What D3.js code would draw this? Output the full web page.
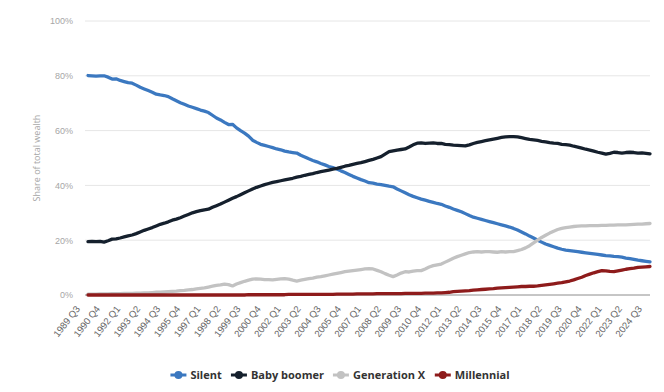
<!DOCTYPE html>
<html>
<head>
<meta charset="utf-8">
<script src="https://cdn.jsdelivr.net/npm/d3@7"></script>
<style>
  body { margin: 0; background: #fff; }
  svg { display: block; font-family: "Open Sans", "Noto Sans", sans-serif; }
</style>
</head>
<body>
<svg id="chart"></svg>
<script>
// quarters 1989 Q3 .. 2024 Q3
const quarters = [];
for (let yr = 1989; yr <= 2024; yr++) {
  for (let q = 1; q <= 4; q++) {
    if (yr === 1989 && q < 3) continue;
    if (yr === 2024 && q > 3) continue;
    quarters.push(`${yr} Q${q}`);
  }
}

const tickLabels = ['1989 Q3', '1990 Q4', '1992 Q1', '1993 Q2', '1994 Q3', '1995 Q4', '1997 Q1',
  '1998 Q2', '1999 Q3', '2000 Q4', '2002 Q1', '2003 Q2', '2004 Q3', '2005 Q4', '2007 Q1',
  '2008 Q2', '2009 Q3', '2010 Q4', '2012 Q1', '2013 Q2', '2014 Q3', '2015 Q4', '2017 Q1',
  '2018 Q2', '2019 Q3', '2020 Q4', '2022 Q1', '2023 Q2', '2024 Q3'];

const yTicks = [0, 20, 40, 60, 80, 100];

const silent = [
  80.1, 80.0, 79.9, 80.0, 80.0, 79.5, 78.8, 78.9, 78.3, 77.9,
  77.5, 77.3, 76.6, 75.8, 75.2, 74.6, 74.0, 73.3, 73.0, 72.8,
  72.4, 71.6, 70.9, 70.2, 69.6, 69.0, 68.5, 68.0, 67.5, 67.1,
  66.6, 65.6, 64.6, 63.9, 63.0, 62.2, 62.3, 61.0, 60.0, 59.1,
  58.0, 56.5, 55.7, 55.0, 54.6, 54.2, 53.8, 53.3, 53.0, 52.5,
  52.2, 52.0, 51.8, 51.0, 50.4, 49.7, 49.1, 48.6, 48.0, 47.5,
  46.9, 46.5, 46.0, 45.3, 44.7, 44.0, 43.3, 42.7, 42.1, 41.6,
  41.0, 40.8, 40.5, 40.3, 40.0, 39.7, 39.5, 38.7, 38.0, 37.3,
  36.6, 36.0, 35.5, 35.0, 34.6, 34.2, 33.8, 33.4, 33.1, 32.5,
  32.0, 31.4, 30.9, 30.4, 29.7, 29.0, 28.4, 28.0, 27.6, 27.2,
  26.8, 26.4, 26.0, 25.6, 25.2, 24.8, 24.3, 23.7, 23.0, 22.3,
  21.5, 20.8, 20.0, 19.3, 18.6, 18.1, 17.6, 17.1, 16.7, 16.4,
  16.2, 16.0, 15.8, 15.6, 15.4, 15.2, 15.0, 14.8, 14.6, 14.4,
  14.3, 14.1, 14.0, 13.8, 13.5, 13.3, 13.0, 12.7, 12.5, 12.3,
  12.1
];

const babyBoomer = [
  19.5, 19.6, 19.5, 19.6, 19.3, 19.8, 20.4, 20.5, 20.8, 21.2,
  21.6, 21.9, 22.4, 23.0, 23.6, 24.1, 24.6, 25.2, 25.8, 26.2,
  26.7, 27.3, 27.7, 28.2, 28.8, 29.4, 30.0, 30.4, 30.8, 31.1,
  31.3, 32.0, 32.6, 33.2, 33.9, 34.6, 35.3, 35.9, 36.6, 37.3,
  38.0, 38.7, 39.3, 39.8, 40.3, 40.7, 41.1, 41.4, 41.7, 42.0,
  42.3, 42.6, 43.0, 43.3, 43.7, 44.0, 44.3, 44.7, 45.0, 45.3,
  45.6, 45.9, 46.2, 46.6, 47.0, 47.3, 47.7, 48.0, 48.3, 48.7,
  49.1, 49.5, 50.0, 50.5, 51.4, 52.3, 52.6, 52.9, 53.1, 53.3,
  54.0, 54.8, 55.4, 55.5, 55.3, 55.4, 55.5, 55.3, 55.3, 55.0,
  54.9, 54.7, 54.6, 54.5, 54.4, 54.8, 55.3, 55.7, 56.0, 56.3,
  56.6, 56.9, 57.2, 57.5, 57.7, 57.8, 57.8, 57.7, 57.4, 57.1,
  56.8, 56.6, 56.4, 56.1, 55.9, 55.6, 55.4, 55.3, 55.0, 54.9,
  54.7, 54.3, 54.0, 53.6, 53.2, 52.9, 52.5, 52.1, 51.8, 51.4,
  51.7, 52.1, 52.0, 51.8, 52.0, 52.1, 52.0, 51.8, 51.9, 51.7,
  51.5
];

const generationX = [
  0.3, 0.3, 0.3, 0.4, 0.4, 0.4, 0.5, 0.5, 0.5, 0.6,
  0.6, 0.6, 0.7, 0.7, 0.8, 0.8, 0.9, 1.0, 1.0, 1.1,
  1.2, 1.3, 1.4, 1.6, 1.7, 1.9, 2.0, 2.2, 2.4, 2.6,
  2.9, 3.2, 3.5, 3.7, 4.0, 3.8, 3.3, 4.0, 4.5, 5.0,
  5.4, 5.8, 5.9, 5.8, 5.6, 5.6, 5.5, 5.7, 5.9, 6.0,
  5.8, 5.4, 5.1, 5.4, 5.7, 6.0, 6.2, 6.5, 6.7, 7.0,
  7.3, 7.6, 7.9, 8.2, 8.5, 8.7, 8.9, 9.1, 9.3, 9.5,
  9.6, 9.5, 9.0, 8.5, 7.8, 7.2, 6.7, 7.3, 8.0, 8.5,
  8.4, 8.7, 8.9, 8.9, 9.5, 10.2, 10.7, 11.0, 11.3, 12.0,
  12.7, 13.4, 14.0, 14.5, 15.0, 15.5, 15.7, 15.8, 15.7, 15.8,
  15.8, 15.7, 15.6, 15.8, 15.7, 15.8, 15.8, 16.2, 16.6, 17.2,
  18.0, 19.0, 20.0, 21.0, 21.8, 22.6, 23.3, 23.9, 24.3, 24.6,
  24.8, 25.0, 25.1, 25.2, 25.2, 25.3, 25.3, 25.3, 25.4, 25.4,
  25.5, 25.5, 25.6, 25.6, 25.6, 25.7, 25.8, 25.9, 25.9, 26.0,
  26.1
];

const millennial = [
  0.0, 0.0, 0.0, 0.0, 0.0, 0.0, 0.0, 0.0, 0.0, 0.0,
  0.0, 0.0, 0.0, 0.0, 0.0, 0.0, 0.0, 0.0, 0.0, 0.0,
  0.0, 0.0, 0.0, 0.0, 0.0, 0.0, 0.0, 0.0, 0.0, 0.0,
  0.0, 0.0, 0.0, 0.0, 0.0, 0.0, 0.0, 0.0, 0.0, 0.0,
  0.1, 0.1, 0.1, 0.1, 0.1, 0.1, 0.1, 0.1, 0.1, 0.1,
  0.2, 0.2, 0.2, 0.2, 0.2, 0.2, 0.2, 0.2, 0.2, 0.2,
  0.2, 0.2, 0.3, 0.3, 0.3, 0.3, 0.3, 0.4, 0.4, 0.4,
  0.4, 0.4, 0.5, 0.5, 0.5, 0.5, 0.5, 0.5, 0.5, 0.6,
  0.6, 0.6, 0.6, 0.6, 0.7, 0.7, 0.7, 0.8, 0.8, 0.9,
  1.0, 1.2, 1.3, 1.4, 1.5, 1.6, 1.8, 1.9, 2.0, 2.1,
  2.2, 2.3, 2.5, 2.6, 2.7, 2.8, 2.9, 3.0, 3.1, 3.1,
  3.2, 3.2, 3.3, 3.5, 3.7, 3.9, 4.1, 4.3, 4.5, 4.8,
  5.1, 5.5, 6.0, 6.5, 7.1, 7.6, 8.1, 8.5, 8.9, 8.8,
  8.6, 8.5, 8.8, 9.1, 9.4, 9.6, 9.8, 10.1, 10.2, 10.3,
  10.4
];

const series = [
  {name: 'Silent', values: silent, color: '#3b78c0'},
  {name: 'Baby boomer', values: babyBoomer, color: '#15202d'},
  {name: 'Generation X', values: generationX, color: '#c2c2c2'},
  {name: 'Millennial', values: millennial, color: '#8e1b1b'}
];

const width = 664;
const height = 392;
const margin = {left: 88, right: 650, top: 21, bottom: 295};

const svg = d3.select('#chart')
  .attr('width', width)
  .attr('height', height);

const x = d3.scalePoint()
  .domain(quarters)
  .range([margin.left, margin.right]);

const y = d3.scaleLinear()
  .domain([0, 100])
  .range([margin.bottom, margin.top]);

// gridlines
svg.append('g')
  .selectAll('line')
  .data(yTicks)
  .join('line')
  .attr('x1', margin.left - 3)
  .attr('x2', margin.right)
  .attr('y1', d => y(d))
  .attr('y2', d => y(d))
  .attr('stroke', d => d === 0 ? '#8c8c8c' : '#e6e6e6')
  .attr('stroke-width', 1);

// y axis labels
const yAxis = svg.append('g')
  .attr('transform', `translate(${margin.left - 15}, 0)`)
  .call(d3.axisLeft(y).tickValues(yTicks).tickFormat(d => d + '%').tickSize(0).tickPadding(0));
yAxis.select('.domain').remove();
yAxis.selectAll('text')
  .attr('fill', '#a6a6a6')
  .style('font-size', '9px');

svg.append('text')
  .attr('transform', `translate(40, ${(margin.top + margin.bottom) / 2}) rotate(-90)`)
  .attr('text-anchor', 'middle')
  .attr('fill', '#a6a6a6')
  .style('font-size', '9px')
  .text('Share of total wealth');

// x axis labels
const xAxis = svg.append('g')
  .attr('transform', `translate(0, ${margin.bottom})`)
  .call(d3.axisBottom(x).tickValues(tickLabels).tickSize(0).tickPadding(0));
xAxis.select('.domain').remove();
xAxis.selectAll('text')
  .attr('fill', '#666')
  .style('font-size', '9.5px')
  .attr('text-anchor', 'end')
  .attr('dy', 0)
  .attr('y', 0)
  .attr('transform', 'translate(-8, 14) rotate(-52)');

// lines
const line = d3.line()
  .x((d, i) => x(quarters[i]))
  .y(d => y(d));

svg.append('g')
  .selectAll('path')
  .data(series)
  .join('path')
  .attr('d', d => line(d.values))
  .attr('fill', 'none')
  .attr('stroke', d => d.color)
  .attr('stroke-width', 3.3)
  .attr('stroke-linejoin', 'round')
  .attr('stroke-linecap', 'round');

// legend
const legend = svg.append('g');
const items = legend.selectAll('g')
  .data(series)
  .join('g');
items.append('line')
  .attr('x1', 0).attr('x2', 16)
  .attr('y1', 0).attr('y2', 0)
  .attr('stroke', d => d.color)
  .attr('stroke-width', 3);
items.append('circle')
  .attr('cx', 8).attr('cy', 0).attr('r', 4)
  .attr('fill', d => d.color);
items.append('text')
  .attr('x', 20)
  .attr('dy', '0.35em')
  .attr('fill', '#333')
  .style('font-size', '11px')
  .style('font-weight', 'bold')
  .text(d => d.name);

let offset = 0;
const gap = 9;
items.each(function() {
  const w = this.getBBox().width;
  d3.select(this).attr('data-x', offset);
  offset += w + gap;
});
const total = offset - gap;
const start = 340 - total / 2;
items.attr('transform', function() {
  return `translate(${start + (+this.getAttribute('data-x'))}, 375)`;
});
</script>
</body>
</html>
